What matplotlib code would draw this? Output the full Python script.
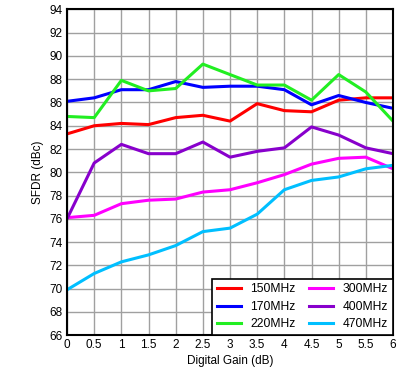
import numpy as np
from matplotlib import pyplot as plt

plt.rcParams['font.family'] = ['Liberation Sans', 'DejaVu Sans']

gain = [0, 0.5, 1, 1.5, 2, 2.5, 3, 3.5, 4, 4.5, 5, 5.5, 6]

f150 = [83.3, 84.0, 84.2, 84.1, 84.7, 84.9, 84.4, 85.9, 85.3, 85.2, 86.2, 86.4, 86.4]
f170 = [86.1, 86.4, 87.1, 87.1, 87.8, 87.3, 87.4, 87.4, 87.1, 85.8, 86.6, 86.0, 85.5]
f220 = [84.8, 84.7, 87.9, 87.0, 87.2, 89.3, 88.4, 87.5, 87.5, 86.2, 88.4, 86.9, 84.4]
f300 = [76.1, 76.3, 77.3, 77.6, 77.7, 78.3, 78.5, 79.1, 79.8, 80.7, 81.2, 81.3, 80.3]
f400 = [76.0, 80.8, 82.4, 81.6, 81.6, 82.6, 81.3, 81.8, 82.1, 83.9, 83.2, 82.1, 81.6]
f470 = [69.9, 71.3, 72.3, 72.9, 73.7, 74.9, 75.2, 76.4, 78.5, 79.3, 79.6, 80.3, 80.6]

labels = ['150MHz', '170MHz', '220MHz', '300MHz', '400MHz', '470MHz']
colors = ['#ff0000', '#0000ff', '#22ee22', '#ff00ff', '#8800cc', '#00bfff']
series = [f150, f170, f220, f300, f400, f470]

fig = plt.figure(figsize=(3.99, 3.77), dpi=100)
ax = fig.add_axes([0.168, 0.111, 0.817, 0.864])

for s, c, l in zip(series, colors, labels):
    ax.plot(gain, s, color=c, lw=2.2, label=l)

ax.set_xlim(0, 6)
ax.set_ylim(66, 94)
ax.set_xticks(np.arange(0, 6.01, 0.5))
ax.set_xticklabels(['0', '0.5', '1', '1.5', '2', '2.5', '3', '3.5', '4', '4.5', '5', '5.5', '6'])
ax.set_yticks(np.arange(66, 95, 2))
ax.tick_params(labelsize=8.5, length=0, pad=3)
ax.grid(True, color='#a0a0a0', lw=1)
for sp in ax.spines.values():
    sp.set_linewidth(1.5)
ax.set_xlabel('Digital Gain (dB)', fontsize=8.5, labelpad=3)
ax.set_ylabel('SFDR (dBc)', fontsize=8.5, labelpad=4)

leg = ax.legend(loc='lower right', ncol=2, fontsize=8.7, fancybox=False,
                edgecolor='black', framealpha=1, handlelength=2.0,
                borderaxespad=0, columnspacing=1.1, labelspacing=0.45,
                handletextpad=0.8)
leg.get_frame().set_linewidth(1.2)

plt.savefig('out.png', dpi=100)
